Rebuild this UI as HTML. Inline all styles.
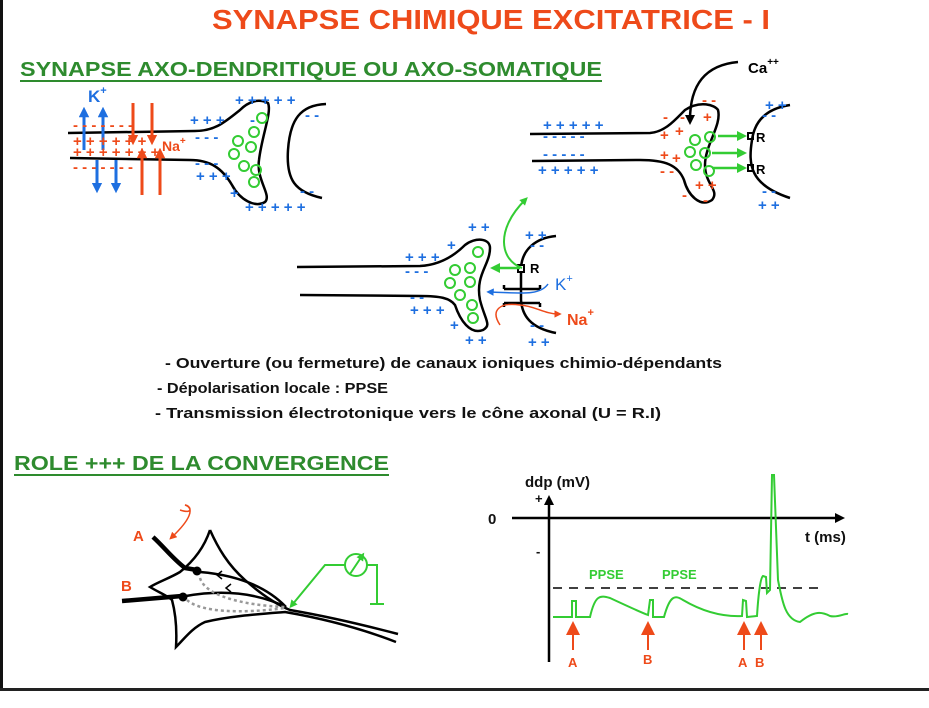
<!DOCTYPE html>
<html><head><meta charset="utf-8"><style>
html,body{margin:0;padding:0;background:#fff;}
svg{display:block;font-family:"Liberation Sans",sans-serif;font-weight:bold;}
.b{fill:#1e6fe0;font-size:15px}
.r{fill:#ee4a1a;font-size:15px}
.k{fill:none;stroke:#000;stroke-width:2.5}
.v{fill:none;stroke:#33cc33;stroke-width:2}
</style></head><body>
<svg width="929" height="708" viewBox="0 0 929 708" xmlns="http://www.w3.org/2000/svg">
<defs>
<marker id="ab" viewBox="0 0 10 10" refX="5" refY="5" markerWidth="5" markerHeight="5" orient="auto"><path d="M0,0L10,5L0,10z" fill="#1e6fe0"/></marker>
<marker id="ar" viewBox="0 0 10 10" refX="5" refY="5" markerWidth="5" markerHeight="5" orient="auto"><path d="M0,0L10,5L0,10z" fill="#ee4a1a"/></marker>
<marker id="ag" viewBox="0 0 10 10" refX="5" refY="5" markerWidth="4" markerHeight="4" orient="auto"><path d="M0,0L10,5L0,10z" fill="#33cc33"/></marker>
<marker id="ak" viewBox="0 0 10 10" refX="5" refY="5" markerWidth="4" markerHeight="4" orient="auto"><path d="M0,0L10,5L0,10z" fill="#000"/></marker>
<marker id="ab2" viewBox="0 0 10 10" refX="5" refY="5" markerWidth="3.5" markerHeight="3.5" orient="auto"><path d="M0,0L10,5L0,10z" fill="#1e6fe0"/></marker>
<marker id="ar2" viewBox="0 0 10 10" refX="5" refY="5" markerWidth="3.5" markerHeight="3.5" orient="auto"><path d="M0,0L10,5L0,10z" fill="#ee4a1a"/></marker>
<marker id="ar3" viewBox="0 0 10 10" refX="5" refY="5" markerWidth="7" markerHeight="7" orient="auto"><path d="M0,0L10,5L0,10z" fill="#ee4a1a"/></marker>
</defs>
<rect x="0" y="0" width="3" height="691" fill="#111"/>
<rect x="0" y="688" width="929" height="3" fill="#222"/>
<text x="491" y="29" text-anchor="middle" fill="#ee4a1a" font-size="28" textLength="558" lengthAdjust="spacingAndGlyphs">SYNAPSE CHIMIQUE EXCITATRICE - I</text>
<text x="20" y="76" fill="#2e8b2e" font-size="20" textLength="582" lengthAdjust="spacingAndGlyphs">SYNAPSE AXO-DENDRITIQUE OU AXO-SOMATIQUE</text>
<rect x="20" y="80" width="582" height="2" fill="#2e8b2e"/>
<text x="14" y="470" fill="#2e8b2e" font-size="20" textLength="375" lengthAdjust="spacingAndGlyphs">ROLE +++ DE LA CONVERGENCE</text>
<rect x="14" y="474" width="375" height="2" fill="#2e8b2e"/>

<!-- Diagram 1 -->
<path class="k" d="M68,133 L195,131 C215,131 225,122 240,110 C248,102 258,98 268,103 C272,112 262,135 259,160 C256,180 272,195 265,202 C255,208 240,200 232,185 C222,168 210,160 190,160 L70,158"/>
<path class="k" d="M326,104 C300,105 290,120 288,150 C286,180 295,192 322,198"/>
<g class="v"><circle cx="262" cy="118" r="5"/><circle cx="254" cy="132" r="5"/><circle cx="238" cy="141" r="5"/><circle cx="234" cy="154" r="5"/><circle cx="251" cy="147" r="5"/><circle cx="244" cy="166" r="5"/><circle cx="256" cy="170" r="5"/><circle cx="254" cy="182" r="5"/></g>
<g stroke-width="3" fill="none">
<path d="M84,150V112" stroke="#1e6fe0" marker-end="url(#ab2)"/><path d="M103,150V112" stroke="#1e6fe0" marker-end="url(#ab2)"/>
<path d="M97,160V188" stroke="#1e6fe0" marker-end="url(#ab2)"/><path d="M116,160V188" stroke="#1e6fe0" marker-end="url(#ab2)"/>
<path d="M133,103V140" stroke="#ee4a1a" marker-end="url(#ar2)"/><path d="M152,103V140" stroke="#ee4a1a" marker-end="url(#ar2)"/>
<path d="M142,195V153" stroke="#ee4a1a" marker-end="url(#ar2)"/><path d="M160,195V153" stroke="#ee4a1a" marker-end="url(#ar2)"/>
</g>
<text x="88" y="102" fill="#1e6fe0" font-size="17">K<tspan font-size="11" dy="-8">+</tspan></text>
<text x="162" y="151" fill="#ee4a1a" font-size="14">Na<tspan font-size="10" dy="-7">+</tspan></text>
<text class="r" x="73" y="130">-  -   -   -   -   -  -</text>
<text class="r" x="73" y="146">+  +  +  +  +  +</text>
<text class="r" x="73" y="157">+ + +  +  +  + +</text>
<text class="r" x="73" y="172">-  -   -   -   -  -  -</text>
<text class="b" x="190" y="125">+ + +</text>
<text class="b" x="195" y="142">-  -  -</text>
<text class="b" x="195" y="168">-   -  -</text>
<text class="b" x="196" y="181">+  +  +</text>
<text class="b" x="235" y="105">+  +  +  +  +</text>
<text class="b" x="230" y="198">+</text><text class="b" x="245" y="212">+  +  +    +  +</text>
<text class="b" x="250" y="125">-</text><text class="b" x="305" y="120">- -</text><text class="b" x="300" y="196">- -</text>

<!-- Diagram 2 -->
<path class="k" d="M530,134 L650,133 C665,132 675,120 685,110 C700,100 715,105 718,110 C722,125 705,145 705,165 C705,185 720,190 712,200 C700,208 688,195 684,180 C678,165 665,160 640,160 L532,161"/>
<path class="k" d="M790,105 C770,108 755,118 752,140 C748,165 750,185 790,198"/>
<path class="k" d="M738,62 C705,65 690,85 690,120" marker-end="url(#ak)"/>
<text x="748" y="73" font-size="15" fill="#000">Ca<tspan font-size="10" dy="-8">++</tspan></text>
<g class="v"><circle cx="695" cy="140" r="5"/><circle cx="710" cy="137" r="5"/><circle cx="690" cy="152" r="5"/><circle cx="705" cy="153" r="5"/><circle cx="696" cy="165" r="5"/><circle cx="709" cy="171" r="5"/></g>
<g stroke="#33cc33" stroke-width="2.5" fill="none"><path d="M718,136H742" marker-end="url(#ag)"/><path d="M712,153H742" marker-end="url(#ag)"/><path d="M712,168H742" marker-end="url(#ag)"/></g>
<rect x="748" y="133" width="5" height="6" fill="none" stroke="#000" stroke-width="2"/><rect x="748" y="165" width="5" height="6" fill="none" stroke="#000" stroke-width="2"/>
<text x="756" y="142" font-size="13" fill="#000">R</text><text x="756" y="174" font-size="13" fill="#000">R</text>
<text class="b" x="543" y="130">+  +  +  +  +</text><text class="b" x="543" y="141">-   -   -   -   -</text>
<text class="b" x="543" y="159">-   -   -   -   -</text><text class="b" x="538" y="175">+  +  +  +  +</text>
<text class="r" x="663" y="122">-</text><text class="r" x="680" y="122">-</text><text class="r" x="702" y="105">- -</text>
<text class="r" x="703" y="122">+</text><text class="r" x="660" y="140">+</text><text class="r" x="675" y="136">+</text>
<text class="r" x="660" y="160">+</text><text class="r" x="672" y="163">+</text><text class="r" x="660" y="176">- -</text>
<text class="r" x="695" y="190">+ +</text><text class="r" x="682" y="200">-</text><text class="r" x="703" y="205">-</text>
<text class="b" x="765" y="110">+ +</text><text class="b" x="762" y="120">- -</text><text class="b" x="762" y="196">- -</text><text class="b" x="758" y="210">+  +</text>

<!-- Diagram 3 -->
<path class="k" d="M297,267 L420,266 C440,265 455,255 465,245 C475,237 490,238 490,248 C490,265 475,275 480,300 C485,320 492,325 483,330 C470,335 460,320 455,305 C450,298 440,296 420,296 L300,295"/>
<path class="k" d="M556,236 C535,238 522,250 521,268 L521,300 C522,315 530,328 556,333"/>
<rect x="518" y="265" width="6" height="7" fill="#fff" stroke="#000" stroke-width="2"/>
<text x="530" y="273" font-size="13" fill="#000">R</text>
<g class="k" stroke-width="2"><path d="M504,289H540M504,289v-4M540,289v-4M504,303H540M504,303v4M540,303v4"/></g>
<g class="v"><circle cx="478" cy="252" r="5"/><circle cx="470" cy="268" r="5"/><circle cx="455" cy="270" r="5"/><circle cx="470" cy="282" r="5"/><circle cx="450" cy="283" r="5"/><circle cx="460" cy="295" r="5"/><circle cx="472" cy="305" r="5"/><circle cx="473" cy="318" r="5"/></g>
<path d="M520,268 L495,268" stroke="#33cc33" stroke-width="2.5" marker-end="url(#ag)"/>
<path d="M522,268 C500,260 495,230 525,200" class="v" marker-end="url(#ag)"/>
<path d="M548,284 C540,296 520,293 490,292" fill="none" stroke="#1e6fe0" stroke-width="1.5" marker-end="url(#ab)"/>
<path d="M500,325 C490,310 500,302 520,305 C535,306 545,314 558,314" fill="none" stroke="#ee4a1a" stroke-width="1.5" marker-end="url(#ar)"/>
<text x="555" y="290" fill="#1e6fe0" font-size="17" font-weight="normal">K<tspan font-size="11" dy="-8">+</tspan></text>
<text x="567" y="325" fill="#ee4a1a" font-size="16">Na<tspan font-size="11" dy="-9">+</tspan></text>
<text class="b" x="405" y="262">+  +  +</text><text class="b" x="447" y="250">+</text><text class="b" x="468" y="232">+ +</text>
<text class="b" x="405" y="276">-  -  -</text><text class="b" x="410" y="302">-  -</text><text class="b" x="410" y="315">+  +  +</text>
<text class="b" x="450" y="330">+</text><text class="b" x="465" y="345">+ +</text>
<text class="b" x="525" y="240">+  +</text><text class="b" x="530" y="250">-  -</text><text class="b" x="530" y="330">-  -</text><text class="b" x="528" y="347">+  +</text>

<!-- bullets -->
<g font-size="15" fill="#111">
<text x="165" y="368" textLength="557" lengthAdjust="spacingAndGlyphs">- Ouverture (ou fermeture) de canaux ioniques chimio-dépendants</text>
<text x="157" y="393" textLength="231" lengthAdjust="spacingAndGlyphs">- Dépolarisation locale : PPSE</text>
<text x="155" y="418" textLength="506" lengthAdjust="spacingAndGlyphs">- Transmission électrotonique vers le cône axonal (U = R.I)</text>
</g>

<!-- neuron -->
<path class="k" stroke-width="2" d="M210,530 C205,545 195,560 180,572 C170,578 158,582 150,587 C158,592 168,596 172,600 C176,615 177,630 176,647 C185,638 192,628 205,622 C230,616 260,614 285,612 C320,618 360,628 396,642"/>
<path class="k" stroke-width="2" d="M210,530 C218,548 228,565 245,580 C262,595 278,605 290,610 C325,616 360,624 398,634"/>
<path d="M153,537 C165,548 172,558 185,568 L197,570" stroke="#000" stroke-width="4.5" fill="none"/>
<path d="M122,601 L182,596" stroke="#000" stroke-width="4.5" fill="none"/>
<circle cx="197" cy="571" r="4.5"/><circle cx="183" cy="597" r="4.5"/>
<path class="k" stroke-width="2" d="M200,572 C235,575 265,585 286,607 M186,596 C220,590 255,592 286,607"/>
<path d="M222,579l-5,-4l5,-4M231,592l-5,-4l5,-4" stroke="#000" stroke-width="1.5" fill="none"/>
<path d="M200,578 C205,595 240,605 285,607 M187,600 C200,612 240,614 285,608" stroke="#999" stroke-width="2.5" stroke-dasharray="3,3" fill="none"/>
<path d="M180,510 C195,515 190,505 185,505 C195,508 190,520 172,537" fill="none" stroke="#ee4a1a" stroke-width="1.5" marker-end="url(#ar)"/>
<text x="133" y="541" fill="#ee4a1a" font-size="15">A</text>
<text x="121" y="591" fill="#ee4a1a" font-size="15">B</text>
<path d="M345,565 H325 L292,605" class="v" marker-end="url(#ag)"/>
<circle cx="356" cy="565" r="11" class="v"/><path d="M350,574 L362,556" class="v" marker-end="url(#ag)"/>
<path d="M367,565 H377 V604 M370,604 H384" class="v"/>

<!-- graph -->
<path d="M549,662 V500" stroke="#000" stroke-width="2.5" marker-end="url(#ak)"/>
<path d="M512,518 H840" stroke="#000" stroke-width="2.5" marker-end="url(#ak)"/>
<text x="525" y="487" font-size="15" fill="#111">ddp (mV)</text>
<text x="535" y="503" font-size="13" fill="#111">+</text>
<text x="488" y="524" font-size="15" fill="#111">0</text>
<text x="536" y="556" font-size="13" fill="#111">-</text>
<text x="805" y="542" font-size="15" fill="#111">t (ms)</text>
<path d="M553,588 H820" stroke="#000" stroke-width="1.5" stroke-dasharray="9,7"/>
<text x="589" y="579" fill="#33cc33" font-size="13">PPSE</text>
<text x="662" y="579" fill="#33cc33" font-size="13">PPSE</text>
<path class="v" d="M553,617 L572,617 L572,601 L576,601 L576,617 L590,617 C595,595 600,595 610,598 C625,605 640,612 648,615 L650,600 L653,600 L653,617 L664,617 C670,595 675,595 683,600 C700,610 720,617 742,616 L743,600 L746,601 L747,617 L757,616 C758,600 760,578 763,576 L766,577 L767,593 L770,590 L772,475 L774,475 L778,580 C782,600 785,620 800,622 C815,610 822,612 830,616 C838,618 845,613 848,614"/>
<g stroke="#ee4a1a" stroke-width="2" fill="none">
<path d="M573,650 V628" marker-end="url(#ar3)"/><path d="M648,650 V628" marker-end="url(#ar3)"/><path d="M744,650 V628" marker-end="url(#ar3)"/><path d="M761,650 V628" marker-end="url(#ar3)"/>
</g>
<g fill="#ee4a1a" font-size="13"><text x="568" y="667">A</text><text x="643" y="664">B</text><text x="738" y="667">A</text><text x="755" y="667">B</text></g>
</svg>
</body></html>
